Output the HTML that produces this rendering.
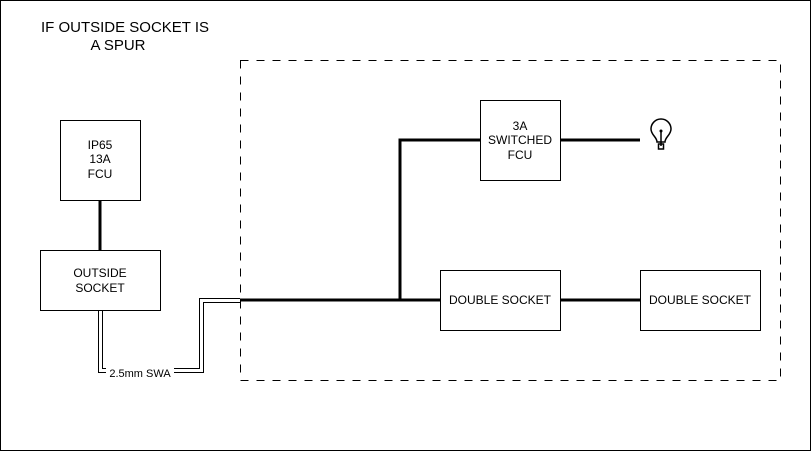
<!DOCTYPE html>
<html><head><style>body{margin:0;background:#fff}svg{display:block}text{font-family:"Liberation Sans",sans-serif;fill:#000}</style></head><body>
<svg width="811" height="451" viewBox="0 0 811 451" xmlns="http://www.w3.org/2000/svg">
<rect x="0.5" y="0.5" width="810" height="450" fill="#fff" stroke="#000"/>
<text x="125" y="32" font-size="15" text-anchor="middle">IF OUTSIDE SOCKET IS</text>
<text x="118" y="50" font-size="15" text-anchor="middle">A SPUR</text>
<rect x="240.5" y="60.5" width="540" height="320" fill="none" stroke="#000" stroke-dasharray="8,8"/>
<g stroke="#000" stroke-width="3" fill="none">
<line x1="100" y1="200" x2="100" y2="250"/>
<polyline points="240,300 400,300 400,140 480,140"/>
<line x1="400" y1="300" x2="440" y2="300"/>
<line x1="560" y1="300" x2="640" y2="300"/>
<line x1="560" y1="140" x2="640" y2="140"/>
</g>
<g stroke="#000" stroke-width="1" fill="none">
<polyline points="98.5,310 98.5,372.5 203.5,372.5 203.5,302.5 240,302.5"/>
<polyline points="102.5,310 102.5,368.5 199.5,368.5 199.5,298.5 240,298.5"/>
</g>
<rect x="106" y="366" width="68" height="14" fill="#fff"/>
<text x="140" y="377" font-size="11" text-anchor="middle">2.5mm SWA</text>
<g fill="#fff" stroke="#000">
<rect x="60.5" y="120.5" width="80" height="80"/>
<rect x="40.5" y="250.5" width="120" height="60"/>
<rect x="480.5" y="100.5" width="80" height="80"/>
<rect x="440.5" y="270.5" width="120" height="60"/>
<rect x="640.5" y="270.5" width="120" height="60"/>
</g>
<g font-size="12" text-anchor="middle">
<text x="100" y="149">IP65</text><text x="100" y="163">13A</text><text x="100" y="178">FCU</text>
<text x="100" y="277">OUTSIDE</text><text x="100" y="292">SOCKET</text>
<text x="520" y="130">3A</text><text x="520" y="144">SWITCHED</text><text x="520" y="159">FCU</text>
<text x="500" y="304">DOUBLE SOCKET</text>
<text x="700" y="304">DOUBLE SOCKET</text>
</g>
<g stroke="#000" fill="none" stroke-width="1.5">
<path d="M657,142 C657,137 651,135 651,129 A10,10 0 1 1 671,129 C671,135 665,137 665,142 Z"/>
<line x1="661" y1="131" x2="661" y2="146"/>
<rect x="658.5" y="144" width="5" height="5"/>
</g>
<circle cx="661" cy="131" r="1.5" fill="#000"/>
</svg>
</body></html>
